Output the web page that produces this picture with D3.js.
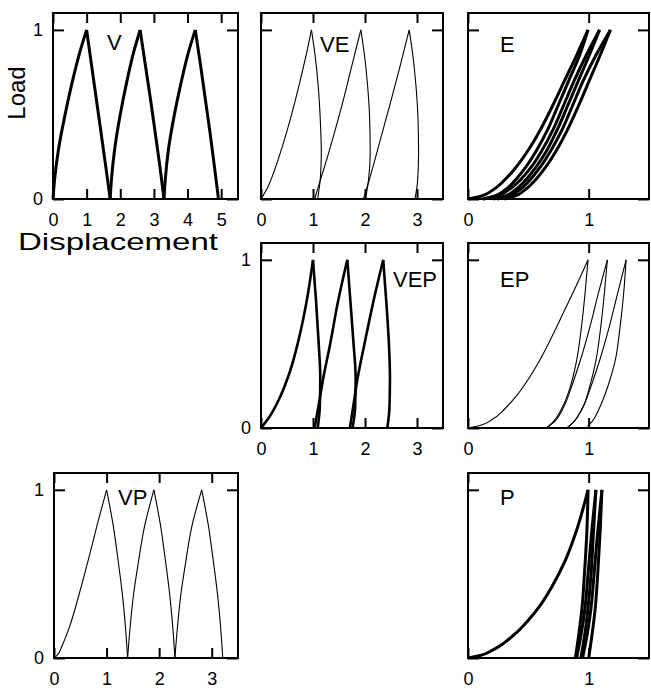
<!DOCTYPE html>
<html><head><meta charset="utf-8">
<script src="https://cdn.jsdelivr.net/npm/d3@7"></script>
<style>
body{margin:0;background:#fff}
svg{display:block}
text{font-family:"Liberation Sans",Arial,Helvetica,sans-serif;fill:#000}
</style>
</head><body>
<svg id="c" width="651" height="690"></svg>
<script>
// ---------- tick labels ----------
const yTickVals = [0, 1];
const ticksV = [0, 1, 2, 3, 4, 5];
const ticks3 = [0, 1, 2, 3];
const ticks1 = [0, 1];

// ---------- series (each branch: [displacement, load]) ----------
const branchesV = [
  [[0,0],[0.05,0.12],[0.16,0.29],[0.35,0.49],[0.57,0.69],[0.80,0.87],[1.0,1.0]],
  [[1.0,1.0],[1.15,0.786],[1.29,0.588],[1.43,0.39],[1.57,0.19],[1.70,0]],
  [[1.70,0],[1.74,0.12],[1.83,0.29],[1.99,0.49],[2.19,0.69],[2.40,0.87],[2.59,1]],
  [[2.59,1],[2.75,0.786],[2.90,0.588],[3.04,0.39],[3.18,0.19],[3.30,0]],
  [[3.30,0],[3.34,0.12],[3.43,0.29],[3.60,0.49],[3.81,0.69],[4.03,0.87],[4.23,1]],
  [[4.23,1],[4.39,0.786],[4.53,0.588],[4.67,0.39],[4.80,0.19],[4.92,0]]
];
const branchesVE = [
  [[0,0],[0.13,0.07],[0.26,0.17],[0.42,0.32],[0.58,0.49],[0.73,0.67],[0.86,0.84],[0.97,1.0]],
  [[0.97,1],[1.04,0.85],[1.10,0.67],[1.14,0.47],[1.16,0.27],[1.14,0.12],[1.09,0.0]],
  [[1.03,0],[1.12,0.09],[1.25,0.22],[1.41,0.39],[1.57,0.57],[1.74,0.78],[1.92,1]],
  [[1.92,1],[1.99,0.85],[2.05,0.67],[2.09,0.47],[2.10,0.27],[2.07,0.12],[2.01,0]],
  [[1.97,0],[2.06,0.09],[2.18,0.22],[2.33,0.39],[2.49,0.57],[2.67,0.78],[2.85,1]],
  [[2.85,1],[2.92,0.85],[2.98,0.67],[3.02,0.47],[3.03,0.27],[3.01,0.10],[2.96,0]]
];
const branchesE = [
  [[0,0],[0.1,0.015],[0.2,0.05],[0.3,0.11],[0.4,0.19],[0.5,0.29],[0.6,0.41],[0.7,0.55],[0.8,0.70],[0.9,0.85],[0.995,1]],
  [[0.995,1],[0.925,0.85],[0.835,0.70],[0.745,0.55],[0.66,0.41],[0.57,0.29],[0.48,0.19],[0.39,0.11],[0.30,0.05],[0.21,0.015],[0.12,0]],
  [[0.13,0],[0.23,0.015],[0.33,0.05],[0.43,0.11],[0.525,0.19],[0.615,0.29],[0.705,0.41],[0.79,0.55],[0.88,0.70],[0.98,0.85],[1.09,1]],
  [[1.09,1],[1.005,0.85],[0.915,0.70],[0.825,0.55],[0.74,0.41],[0.655,0.29],[0.565,0.19],[0.475,0.11],[0.385,0.05],[0.295,0.015],[0.21,0]],
  [[0.24,0],[0.33,0.015],[0.42,0.05],[0.51,0.11],[0.60,0.19],[0.69,0.29],[0.78,0.41],[0.865,0.55],[0.955,0.70],[1.06,0.85],[1.18,1]],
  [[1.18,1],[1.095,0.85],[1.005,0.70],[0.915,0.55],[0.825,0.41],[0.735,0.29],[0.645,0.19],[0.555,0.11],[0.465,0.05],[0.38,0.015],[0.30,0]]
];
const branchesVEP = [
  [[0,0],[0.17,0.07],[0.36,0.18],[0.55,0.33],[0.72,0.52],[0.87,0.74],[1.0,1.0]],
  [[1.0,1],[1.06,0.75],[1.11,0.5],[1.14,0.3],[1.13,0.12],[1.09,0]],
  [[1.03,0],[1.10,0.12],[1.20,0.3],[1.33,0.5],[1.48,0.75],[1.66,1]],
  [[1.66,1],[1.72,0.75],[1.78,0.5],[1.82,0.3],[1.81,0.12],[1.76,0]],
  [[1.71,0],[1.77,0.12],[1.86,0.3],[1.99,0.5],[2.16,0.75],[2.35,1]],
  [[2.35,1],[2.41,0.75],[2.46,0.5],[2.48,0.3],[2.47,0.12],[2.43,0]]
];
const branchesEP = [
  [[0,0],[0.1,0.015],[0.2,0.05],[0.3,0.11],[0.4,0.19],[0.5,0.29],[0.6,0.41],[0.7,0.55],[0.8,0.70],[0.9,0.85],[0.995,1]],
  [[0.995,1],[0.97,0.8],[0.94,0.6],[0.90,0.4],[0.85,0.25],[0.78,0.12],[0.71,0.04],[0.65,0]],
  [[0.65,0],[0.72,0.04],[0.79,0.12],[0.86,0.25],[0.93,0.4],[1.01,0.6],[1.08,0.8],[1.155,1]],
  [[1.155,1],[1.13,0.8],[1.10,0.6],[1.06,0.4],[1.01,0.25],[0.95,0.12],[0.88,0.04],[0.82,0]],
  [[0.82,0],[0.88,0.04],[0.95,0.12],[1.02,0.25],[1.09,0.4],[1.17,0.6],[1.24,0.8],[1.31,1]],
  [[1.31,1],[1.29,0.8],[1.26,0.6],[1.22,0.4],[1.16,0.25],[1.09,0.12],[1.03,0.04],[0.99,0.01]]
];
const branchesVP = [
  [[0,0],[0.07,0.02],[0.15,0.07],[0.30,0.19],[0.47,0.37],[0.65,0.58],[0.82,0.79],[1.0,1.0]],
  [[1.0,1],[1.12,0.80],[1.215,0.59],[1.30,0.38],[1.36,0.18],[1.40,0]],
  [[1.40,0],[1.45,0.19],[1.51,0.37],[1.60,0.56],[1.72,0.78],[1.90,1]],
  [[1.90,1],[2.02,0.80],[2.115,0.59],[2.20,0.38],[2.26,0.18],[2.30,0]],
  [[2.30,0],[2.35,0.19],[2.41,0.37],[2.50,0.56],[2.62,0.78],[2.81,1]],
  [[2.81,1],[2.93,0.80],[3.025,0.59],[3.11,0.38],[3.17,0.18],[3.21,0]]
];
const branchesP = [
  [[0,0],[0.1,0.015],[0.2,0.045],[0.3,0.09],[0.4,0.15],[0.5,0.225],[0.6,0.315],[0.7,0.43],[0.8,0.57],[0.9,0.76],[0.995,1]],
  [[0.995,1],[0.985,0.75],[0.965,0.5],[0.945,0.3],[0.92,0.15],[0.89,0]],
  [[0.90,0],[0.94,0.15],[0.97,0.3],[0.995,0.5],[1.025,0.75],[1.06,1]],
  [[1.06,1],[1.04,0.75],[1.02,0.5],[0.995,0.3],[0.97,0.15],[0.935,0]],
  [[0.95,0],[0.99,0.15],[1.02,0.3],[1.045,0.5],[1.075,0.75],[1.11,1]],
  [[1.11,1],[1.095,0.75],[1.075,0.5],[1.055,0.3],[1.03,0.15],[1.00,0]]
];

// ---------- layout ----------
const panels = [
  {name:"V",   data:branchesV,   x0:53,  x1:238, y0:13,  y1:199, xmax:5.5, ticks:ticksV, yLabels:true,  sw:3.0, lx:54,  ly:37},
  {name:"VE",  data:branchesVE,  x0:261, x1:443, y0:13,  y1:199, xmax:3.5, ticks:ticks3, yLabels:false, sw:1.1, lx:59,  ly:39},
  {name:"E",   data:branchesE,   x0:468, x1:649, y0:13,  y1:199, xmax:1.5, ticks:ticks1, yLabels:false, sw:3.0, lx:32,  ly:39},
  {name:"VEP", data:branchesVEP, x0:261, x1:443, y0:243, y1:428, xmax:3.5, ticks:ticks3, yLabels:true,  sw:2.6, lx:132, ly:44},
  {name:"EP",  data:branchesEP,  x0:468, x1:649, y0:243, y1:428, xmax:1.5, ticks:ticks1, yLabels:false, sw:1.1, lx:32,  ly:44},
  {name:"VP",  data:branchesVP,  x0:54,  x1:238, y0:473, y1:658, xmax:3.5, ticks:ticks3, yLabels:true,  sw:1.1, lx:64,  ly:32},
  {name:"P",   data:branchesP,   x0:468, x1:649, y0:473, y1:658, xmax:1.5, ticks:ticks1, yLabels:false, sw:3.0, lx:32,  ly:32}
];

const svg = d3.select("#c");
const tickLen = 10;

panels.forEach(p => {
  const x = d3.scaleLinear().domain([0, p.xmax]).range([p.x0, p.x1]);
  const y = d3.scaleLinear().domain([0, 1.1]).range([p.y1, p.y0]);
  const g = svg.append("g");

  const line = d3.line().x(d => x(d[0])).y(d => y(d[1])).curve(d3.curveMonotoneY);
  g.selectAll("path.curve").data(p.data).join("path")
    .attr("class","curve")
    .attr("d", line)
    .attr("fill","none").attr("stroke","#000")
    .attr("stroke-width", p.sw).attr("stroke-linejoin","miter").attr("stroke-linecap","butt");

  const ab = g.append("g").attr("transform",`translate(0,${p.y1})`)
    .call(d3.axisBottom(x).tickValues(p.ticks).tickFormat(d3.format("d")).tickSizeInner(-tickLen).tickSizeOuter(0).tickPadding(14));
  const at = g.append("g").attr("transform",`translate(0,${p.y0})`)
    .call(d3.axisTop(x).tickValues(p.ticks).tickFormat("").tickSizeInner(-tickLen).tickSizeOuter(0));
  const al = g.append("g").attr("transform",`translate(${p.x0},0)`)
    .call(d3.axisLeft(y).tickValues(yTickVals).tickFormat(p.yLabels ? d3.format("d") : "").tickSizeInner(-tickLen-1).tickSizeOuter(0).tickPadding(10));
  const ar = g.append("g").attr("transform",`translate(${p.x1},0)`)
    .call(d3.axisRight(y).tickValues(yTickVals).tickFormat("").tickSizeInner(-tickLen-1).tickSizeOuter(0));

  [ab, at, al, ar].forEach(a => {
    a.select(".domain").remove();
    a.selectAll("line").attr("stroke","#000").attr("stroke-width",2);
    a.selectAll("text").attr("font-size",18).attr("font-family",'"Liberation Sans",Arial,sans-serif').attr("fill","#000");
  });

  g.append("rect").attr("x",p.x0).attr("y",p.y0)
    .attr("width",p.x1-p.x0).attr("height",p.y1-p.y0)
    .attr("fill","none").attr("stroke","#000").attr("stroke-width",2);

  g.append("text").attr("x",p.x0+p.lx).attr("y",p.y0+p.ly)
    .attr("font-size",22).text(p.name);
});

svg.append("text").attr("transform","translate(25,93) rotate(-90)")
  .attr("text-anchor","middle").attr("font-size",24).text("Load");
svg.append("text").attr("x",18).attr("y",250)
  .attr("font-size",24).attr("textLength",200).attr("lengthAdjust","spacingAndGlyphs")
  .text("Displacement");
</script>
</body></html>
